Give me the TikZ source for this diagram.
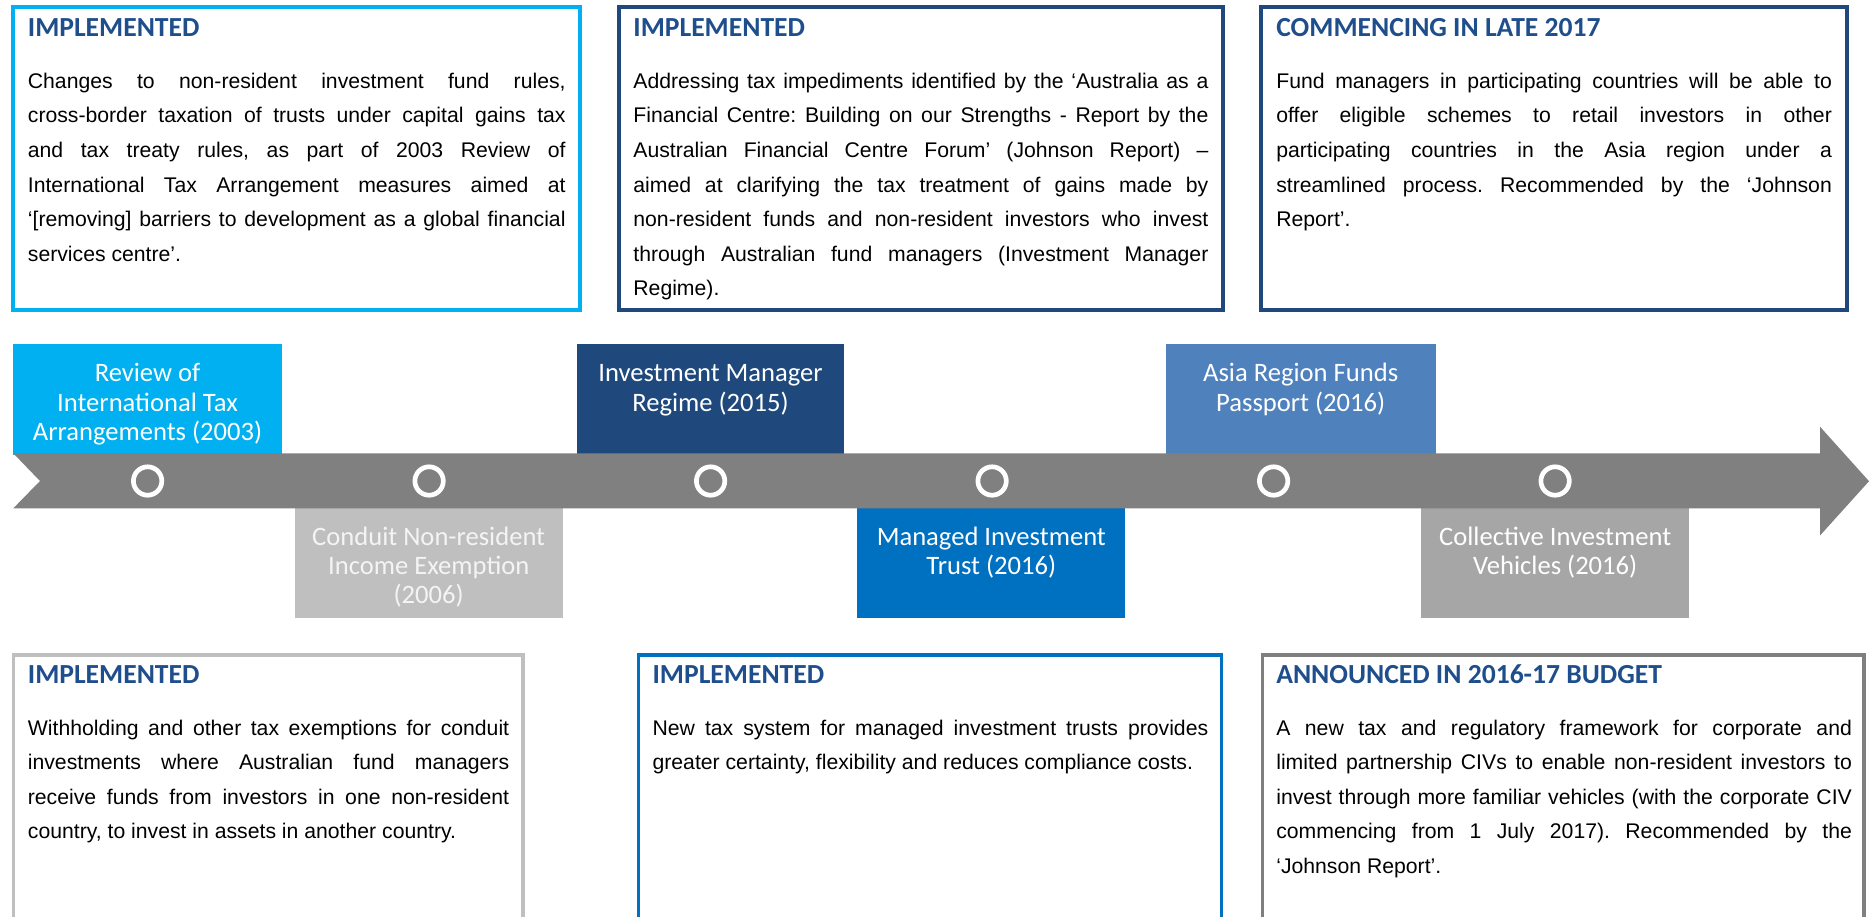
\documentclass[tikz,border=0pt]{standalone}
\usepackage{fontspec}
\setmainfont{Liberation Sans}
\newfontfamily\calibrifont{Carlito}
\frenchspacing

\definecolor{cyanbox}{HTML}{00B0F0}
\definecolor{navy}{HTML}{1F497D}
\definecolor{midblue}{HTML}{0070C0}
\definecolor{steel}{HTML}{4F81BD}
\definecolor{lightgray}{HTML}{BFBFBF}
\definecolor{midgray}{HTML}{A6A6A6}
\definecolor{darkgray}{HTML}{7F7F7F}
\definecolor{bandgray}{HTML}{808080}
\definecolor{titleblue}{HTML}{1F4E8C}
\definecolor{paletext}{HTML}{F4F4F4}

% justified body paragraph, first baseline at the node's base
\newcommand{\justpar}[2]{\parbox[t]{#1}{\fontsize{21.2pt}{34.6pt}\selectfont
  \tolerance=10000 \hyphenpenalty=10000 \exhyphenpenalty=10000 #2\par}}
% centred label for the timeline boxes
\newcommand{\centpar}[1]{\parbox[t]{268pt}{\centering\calibrifont
  \fontsize{26.6pt}{29.3pt}\selectfont #1\par}}

\tikzset{
  descbox/.style={line width=4pt},
  lowbox/.style={line width=3.5pt},
  boxtitle/.style={anchor=base west, inner sep=0pt, text=titleblue,
    font=\calibrifont\bfseries\fontsize{27.6pt}{30pt}\selectfont},
  boxbody/.style={anchor=base west, inner sep=0pt, text=black},
  stage/.style={anchor=base, inner sep=0pt, text=white},
  ring/.style={draw=white, line width=4.7pt},
}

\begin{document}
\begin{tikzpicture}[x=1pt, y=-1pt]
\useasboundingbox (0,0) rectangle (1869,916);
\clip (0,0) rectangle (1869,916);
\fill[white] (0,0) rectangle (1869,916);

% ---------- description boxes, upper row ----------
\draw[descbox, draw=cyanbox] (13,7) rectangle (580,310);
\draw[descbox, draw=navy] (618.6,7) rectangle (1222.8,310);
\draw[descbox, draw=navy] (1261.3,7) rectangle (1846.5,310);

\node[boxtitle] (t1) at (27.7,36) {IMPLEMENTED};
\node[boxbody] (b1) at (27.7,88.3) {\justpar{537.7pt}{%
Changes to non-resident investment fund rules,\linebreak
cross-border taxation of trusts under capital gains tax\linebreak
and tax treaty rules, as part of 2003 Review of\linebreak
International Tax Arrangement measures aimed at\linebreak
‘[removing] barriers to development as a global financial\linebreak
services centre’.}};

\node[boxtitle] (t2) at (633.2,36) {IMPLEMENTED};
\node[boxbody] (b2) at (633.2,88.3) {\justpar{575pt}{%
Addressing tax impediments identified by the ‘Australia as a\linebreak
Financial Centre: Building on our Strengths - Report by the\linebreak
Australian Financial Centre Forum’ (Johnson Report) –\linebreak
aimed at clarifying the tax treatment of gains made by\linebreak
non-resident funds and non-resident investors who invest\linebreak
through Australian fund managers (Investment Manager\linebreak
Regime).}};

\node[boxtitle] (t3) at (1276.1,36) {COMMENCING IN LATE 2017};
\node[boxbody] (b3) at (1276.1,88.3) {\justpar{555.6pt}{%
Fund managers in participating countries will be able to\linebreak
offer eligible schemes to retail investors in other\linebreak
participating countries in the Asia region under a\linebreak
streamlined process. Recommended by the ‘Johnson\linebreak
Report’.}};

% ---------- timeline stage boxes ----------
\fill[cyanbox]  (13,344)    rectangle (282,455);
\fill[navy]     (576.5,344) rectangle (844.4,455);
\fill[steel]    (1165.8,344) rectangle (1435.5,455);
\fill[lightgray] (294.6,506) rectangle (562.7,618.3);
\fill[midblue]  (857.3,506) rectangle (1125.2,618.3);
\fill[midgray]  (1421,506)  rectangle (1689.4,618.3);

% ---------- timeline arrow ----------
\fill[bandgray] (13.3,453.3) -- (1820,453.3) -- (1820,426.7) -- (1869,481.2)
  -- (1820,535.5) -- (1820,508.3) -- (13.3,508.3) -- (40,481) -- cycle;

\foreach \k in {0,...,5}
  \draw[ring] ({147.6+281.5*\k},481) circle[radius=14.2pt];

% ---------- stage labels ----------
\node[stage] (s1) at (147.5,381.7) {\centpar{Review of\\International Tax\\Arrangements (2003)}};
\node[stage] (s2) at (428.7,545) {\color{paletext}\centpar{Conduit Non-resident\\Income Exemption\\(2006)}};
\node[stage] (s3) at (710.5,381.7) {\centpar{Investment Manager\\Regime (2015)}};
\node[stage] (s4) at (991.3,545) {\centpar{Managed Investment\\Trust (2016)}};
\node[stage] (s5) at (1300.7,381.7) {\centpar{Asia Region Funds\\Passport (2016)}};
\node[stage] (s6) at (1555.2,545) {\centpar{Collective Investment\\Vehicles (2016)}};

% ---------- description boxes, lower row ----------
\draw[lowbox, draw=lightgray] (13.6,940) -- (13.6,655) -- (523,655) -- (523,940);
\draw[lowbox, draw=midblue] (638.3,940) -- (638.3,655) -- (1221.7,655) -- (1221.7,940);
\draw[lowbox, draw=darkgray] (1262.6,940) -- (1262.6,655) -- (1864,655) -- (1864,940);

\node[boxtitle] (t4) at (27.7,683.3) {IMPLEMENTED};
\node[boxbody] (b4) at (27.7,735) {\justpar{481.3pt}{%
Withholding and other tax exemptions for conduit\linebreak
investments where Australian fund managers\linebreak
receive funds from investors in one non-resident\linebreak
country, to invest in assets in another country.}};

\node[boxtitle] (t5) at (652.4,683.3) {IMPLEMENTED};
\node[boxbody] (b5) at (652.4,735) {\justpar{555.6pt}{%
New tax system for managed investment trusts provides\linebreak
greater certainty, flexibility and reduces compliance costs.}};

\node[boxtitle] (t6) at (1276.1,683.3) {ANNOUNCED IN 2016-17 BUDGET};
\node[boxbody] (b6) at (1276.1,735) {\justpar{575.6pt}{%
A new tax and regulatory framework for corporate and\linebreak
limited partnership CIVs to enable non-resident investors to\linebreak
invest through more familiar vehicles (with the corporate CIV\linebreak
commencing from 1 July 2017). Recommended by the\linebreak
‘Johnson Report’.}};
\end{tikzpicture}
\end{document}
